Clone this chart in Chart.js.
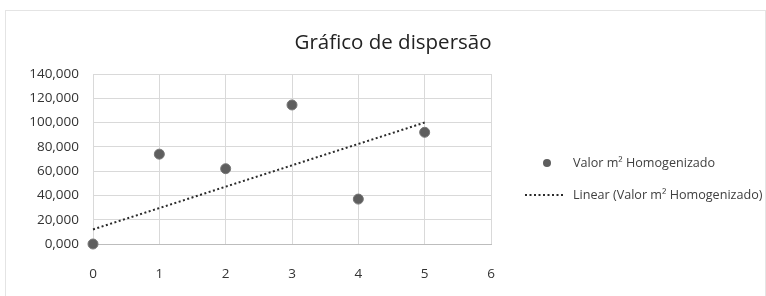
<!DOCTYPE html>
<html>
<head>
<meta charset="utf-8">
<script src="https://cdn.jsdelivr.net/npm/chart.js@4"></script>
<style>
  html, body { margin: 0; padding: 0; background: #fff; }
  #wrap { position: relative; width: 766px; height: 296px; }
</style>
</head>
<body>
<div id="wrap"><canvas id="c" width="766" height="296"></canvas></div>
<script>
const chartTitle = 'Gráfico de dispersão';
const seriesLabel = 'Valor m² Homogenizado';
const trendLabel = 'Linear (Valor m² Homogenizado)';
const xValues = [0, 1, 2, 3, 4, 5];
const yValues = [0, 74000, 62000, 114500, 37000, 92000];
const trendX = [0, 5];
const trendY = [12000, 100000];
const yTickLabels = ['0,000', '20,000', '40,000', '60,000', '80,000', '100,000', '120,000', '140,000'];
const xTickLabels = ['0', '1', '2', '3', '4', '5', '6'];

const FONT = "'Open Sans', 'Liberation Sans', sans-serif";

const pts = xValues.map((x, i) => ({ x: x, y: yValues[i] }));
const trend = trendX.map((x, i) => ({ x: x, y: trendY[i] }));

const frameAndLegend = {
  id: 'frameAndLegend',
  beforeDraw(chart) {
    const ctx = chart.ctx;
    ctx.save();
    ctx.fillStyle = '#fff';
    ctx.fillRect(0, 0, chart.width, chart.height);
    ctx.strokeStyle = '#e4e4e4';
    ctx.lineWidth = 1;
    ctx.strokeRect(5.5, 10.5, 760, 300);
    ctx.restore();
  },
  afterDraw(chart) {
    const ctx = chart.ctx;
    ctx.save();
    // title, centred on the whole chart box
    ctx.fillStyle = '#222';
    ctx.font = '20.5px ' + FONT;
    ctx.textAlign = 'center';
    ctx.textBaseline = 'alphabetic';
    ctx.fillText(chartTitle, 393, 49);
    // legend marker
    ctx.fillStyle = '#5e5e5e';
    ctx.beginPath();
    ctx.arc(547, 163, 4, 0, Math.PI * 2);
    ctx.fill();
    // legend dotted line
    ctx.strokeStyle = '#2a2a2a';
    ctx.lineWidth = 2;
    ctx.setLineDash([2, 2.5]);
    ctx.beginPath();
    ctx.moveTo(525, 195);
    ctx.lineTo(564, 195);
    ctx.stroke();
    ctx.setLineDash([]);
    ctx.fillStyle = '#404040';
    ctx.font = '12.6px ' + FONT;
    ctx.textBaseline = 'middle';
    ctx.textAlign = 'left';
    ctx.fillText(chart.data.datasets[0].label, 573, 163);
    ctx.fillText(chart.data.datasets[1].label, 573, 195);
    ctx.restore();
  }
};

new Chart(document.getElementById('c'), {
  type: 'scatter',
  data: {
    datasets: [
      {
        label: seriesLabel,
        data: pts,
        backgroundColor: '#5e5e5e',
        borderColor: '#777',
        borderWidth: 1,
        pointRadius: 5,
        clip: false,
        order: 1
      },
      {
        label: trendLabel,
        data: trend,
        showLine: true,
        borderColor: '#2a2a2a',
        borderWidth: 2,
        borderDash: [2, 2.5],
        pointRadius: 0,
        fill: false,
        clip: false,
        order: 2
      }
    ]
  },
  plugins: [frameAndLegend],
  options: {
    responsive: false,
    animation: false,
    layout: { padding: { left: 0, right: 275, top: 74, bottom: 0 } },
    plugins: {
      legend: { display: false },
      tooltip: { enabled: false },
      title: { display: false }
    },
    scales: {
      x: {
        type: 'linear',
        min: 0, max: 6,
        afterFit(s) { s.height = 52; },
        ticks: {
          stepSize: 1,
          padding: 22,
          color: '#333',
          font: { family: FONT, size: 13.5 },
          callback: (v, i) => xTickLabels[i]
        },
        grid: { color: '#d9d9d9', drawTicks: false },
        border: { color: '#bdbdbd' }
      },
      y: {
        type: 'linear',
        min: 0, max: 140000,
        afterFit(s) { s.width = 93; },
        ticks: {
          stepSize: 20000,
          padding: 14,
          color: '#333',
          font: { family: FONT, size: 13.5 },
          callback: (v, i) => yTickLabels[i]
        },
        grid: { color: '#d9d9d9', drawTicks: false },
        border: { color: '#d9d9d9' }
      }
    }
  }
});
</script>
</body>
</html>
